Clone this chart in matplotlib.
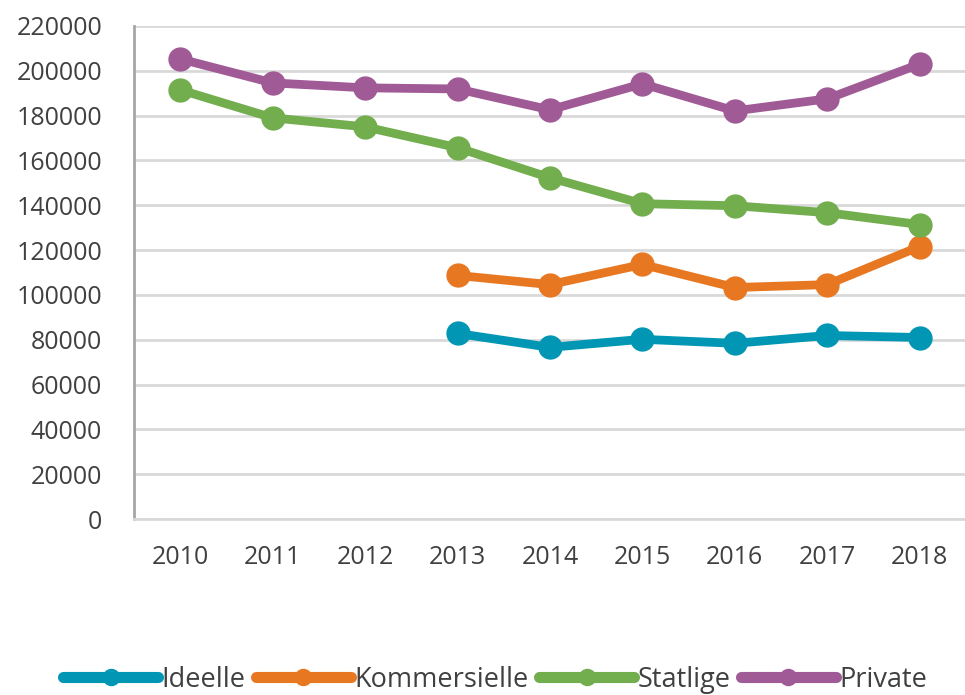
import matplotlib
matplotlib.use("Agg")
import matplotlib.pyplot as plt
import numpy as np

years = ["2010", "2011", "2012", "2013", "2014", "2015", "2016", "2017", "2018"]
ideelle = [None, None, None, 82800, 76600, 80200, 78400, 81900, 81000]
kommersielle = [None, None, None, 108700, 104600, 113600, 103300, 104600, 121600]
statlige = [191500, 179000, 175000, 165700, 152300, 140700, 139800, 136700, 131400]
private = [205300, 194600, 192400, 191900, 182600, 194200, 182100, 187500, 203000]
series_names = ["Ideelle", "Kommersielle", "Statlige", "Private"]
yticks = list(range(0, 220001, 20000))

colors = ["#0096B4", "#E87722", "#72AD4E", "#A05A96"]
text_color = "#404040"

plt.rcParams['font.family'] = ['Open Sans', 'DejaVu Sans']

fig = plt.figure(figsize=(9.65, 6.95), dpi=100)
ax = fig.add_axes([0.1389, 0.2532, 0.862, 0.7094])

x = np.arange(len(years))
for name, vals, c in zip(series_names, [ideelle, kommersielle, statlige, private], colors):
    v = np.array([np.nan if a is None else a for a in vals], dtype=float)
    ax.plot(x, v, color=c, lw=6.3, marker='o', markersize=16.5, label=name,
            solid_capstyle='round', zorder=3)

ax.set_xlim(-0.5, len(years) - 0.5)
ax.set_ylim(0, 220000)
ax.set_xticks(x)
ax.set_xticklabels(years)
ax.set_yticks(yticks)
ax.set_yticklabels([str(t) for t in yticks])
ax.tick_params(axis='both', length=0, labelsize=18, colors=text_color)
ax.tick_params(axis='y', pad=23)
ax.tick_params(axis='x', pad=19)
ax.grid(axis='y', color='#D9D9D9', lw=2, zorder=0)
ax.set_axisbelow(True)
for s in ['top', 'right']:
    ax.spines[s].set_visible(False)
ax.spines['left'].set_color('#A6A6A6')
ax.spines['left'].set_linewidth(2)
ax.spines['bottom'].set_color('#D9D9D9')
ax.spines['bottom'].set_linewidth(2)

leg = fig.legend(loc='center', bbox_to_anchor=(0.513, 0.022), ncol=4, frameon=False,
                 fontsize=19.5, handlelength=3.5, handletextpad=0.12, columnspacing=0.4,
                 markerscale=0.7, labelcolor=text_color)
for h in leg.legend_handles:
    h.set_linewidth(8)

fig.savefig("out.png", dpi=100)
